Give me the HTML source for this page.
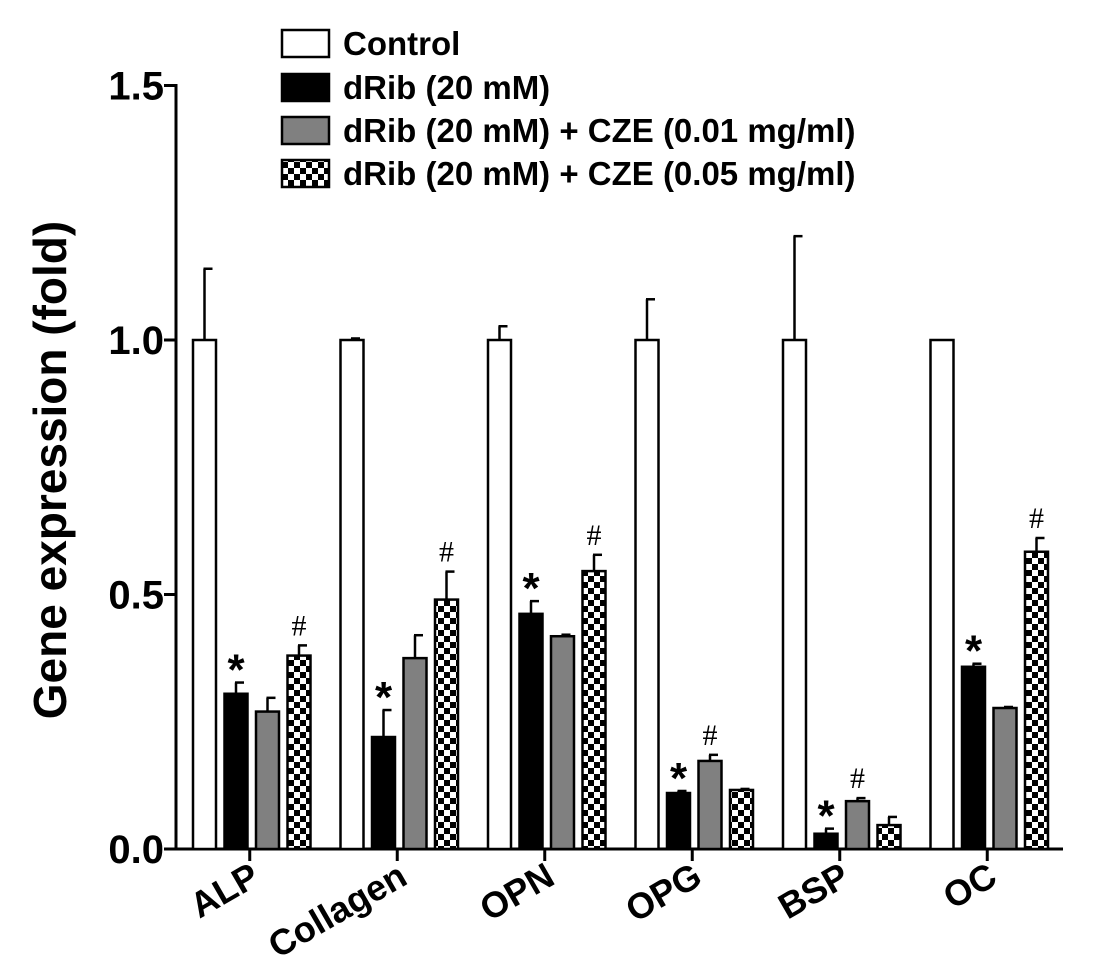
<!DOCTYPE html>
<html><head><meta charset="utf-8"><style>
body{margin:0;background:#fff}
svg{display:block;font-family:"Liberation Sans",Arial,sans-serif}
</style></head><body>
<svg id="chart" width="1098" height="980">
<defs>
<pattern id="chk" width="12" height="12" patternUnits="userSpaceOnUse">
<rect width="12" height="12" fill="#fff"/><rect width="6" height="6" fill="#000"/><rect x="6" y="6" width="6" height="6" fill="#000"/>
</pattern>
</defs>
<g id="legend"></g>
<g id="plot"></g>
</svg>
<script>
const categories=["ALP","Collagen","OPN","OPG","BSP","OC"];
const seriesNames=["Control","dRib (20 mM)","dRib (20 mM) + CZE (0.01 mg/ml)","dRib (20 mM) + CZE (0.05 mg/ml)"];
const controlVals=[1,1,1,1,1,1];
const controlErr=[0.14,0.003,0.027,0.08,0.204,0];
const dribVals=[0.305,0.22,0.462,0.11,0.03,0.358];
const dribErr=[0.022,0.053,0.025,0.004,0.01,0.006];
const cze01Vals=[0.27,0.375,0.418,0.173,0.094,0.277];
const cze01Err=[0.027,0.045,0.003,0.012,0.006,0.002];
const cze05Vals=[0.38,0.49,0.546,0.116,0.047,0.584];
const cze05Err=[0.02,0.055,0.032,0.002,0.016,0.027];
const stars=[1,1,1,1,1,1];
const hashGray=[0,0,0,1,1,0];
const hashChk=[1,1,1,0,0,1];
const yTicks=[0,0.5,1.0,1.5];

const NS="http://www.w3.org/2000/svg";
const plot=document.getElementById('plot');
const leg=document.getElementById('legend');
function mk(tag,attrs,parent){const e=document.createElementNS(NS,tag);for(const k in attrs)e.setAttribute(k,attrs[k]);(parent||plot).appendChild(e);return e;}
const y0=849,pxPerUnit=509,x0=176;
const yS=v=>y0-v*pxPerUnit;
const groupX=i=>193+i*147.5;
const barW=23,barStep=31.5;
const fills=["#fff","#000","#808080","url(#chk)"];
const vals=[controlVals,dribVals,cze01Vals,cze05Vals];
const errs=[controlErr,dribErr,cze01Err,cze05Err];
let a=mk('line',{x1:x0,y1:84,x2:x0,y2:y0+1,stroke:'#000','stroke-width':3});

a=mk('line',{x1:x0-1,y1:y0,x2:1063,y2:y0,stroke:'#000','stroke-width':3});

yTicks.forEach(t=>{
 const y=yS(t);
 mk('line',{x1:x0-12,y1:y,x2:x0,y2:y,stroke:'#000','stroke-width':3});
 const tx=mk('text',{x:x0-12,y:y+14,'text-anchor':'end','font-size':40,'font-weight':'bold'});
 tx.textContent=t.toFixed(1);
 
});
const yt=mk('text',{transform:'translate(66,470) rotate(-90)','text-anchor':'middle','font-size':46,'font-weight':'bold'});
yt.textContent='Gene expression (fold)';

categories.forEach((c,i)=>{
 const gx=groupX(i);
 const cx=gx+barStep*1.5+barW/2;
 mk('line',{x1:cx-2,y1:y0,x2:cx-2,y2:y0+12,stroke:'#000','stroke-width':3});
 const lt=mk('text',{transform:`translate(${cx+10},${y0+34}) rotate(-30)`,'text-anchor':'end','font-size':36,'font-weight':'bold'});
 lt.textContent=c;
 
 for(let s=0;s<4;s++){
  const x=gx+s*barStep,v=vals[s][i],e=errs[s][i];
  const mid=x+barW/2;
  if(e>0){
   const el=mk('line',{x1:mid,y1:yS(v),x2:mid,y2:yS(v+e),stroke:'#000','stroke-width':2.5});
   const cap=mk('line',{x1:mid-1,y1:yS(v+e),x2:mid+8,y2:yS(v+e),stroke:'#000','stroke-width':2.5});
   
   
  }
  const r=mk('rect',{x:x,y:yS(v),width:barW,height:v*pxPerUnit,fill:fills[s],stroke:'#000','stroke-width':2.5});
  
  let mark=null;
  if(s===1&&stars[i])mark='*';
  if(s===2&&hashGray[i])mark='#';
  if(s===3&&hashChk[i])mark='#';
  if(mark){
   const m=mk('text',{x:mid,y:yS(v+e)-(mark==='*'?-2:10),'text-anchor':'middle','font-size':mark==='*'?44:30,'font-weight':mark==='*'?'bold':'normal','font-family':mark==='#'?'Liberation Serif, serif':'Liberation Sans, sans-serif'});
   m.textContent=mark;
   
  }
 }
});
const legY=[43,87,130,173];
seriesNames.forEach((n,s)=>{
 const r=mk('rect',{x:282,y:legY[s]-13,width:47,height:27,fill:fills[s],stroke:'#000','stroke-width':2.5},leg);
 
 const t=mk('text',{x:343,y:legY[s]+12,'font-size':33,'font-weight':'bold'},leg);
 t.textContent=n;
 
});
</script>
</body></html>
